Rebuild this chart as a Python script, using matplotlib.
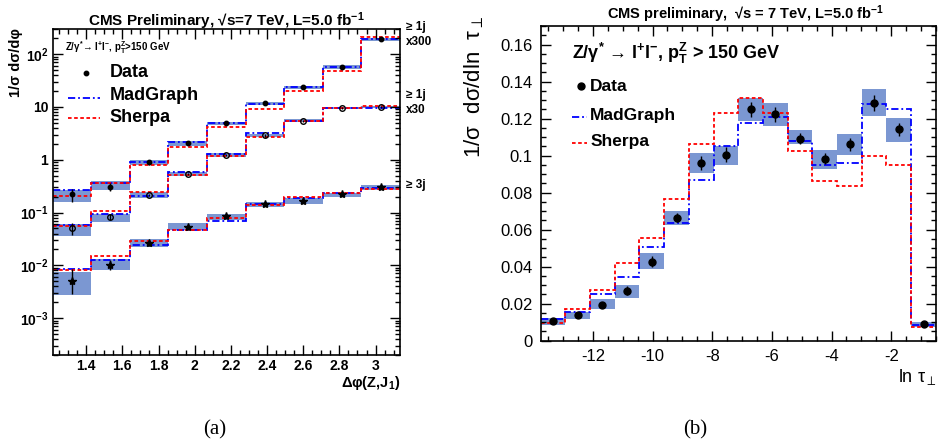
import numpy as np
import matplotlib
matplotlib.use("Agg")
import matplotlib.pyplot as plt
from matplotlib.ticker import MultipleLocator, FixedLocator, FixedFormatter, NullFormatter, LogLocator

plt.rcParams['font.family'] = ['Liberation Sans', 'DejaVu Sans']
plt.rcParams['mathtext.fontset'] = 'custom'
plt.rcParams['mathtext.rm'] = 'Liberation Sans'
plt.rcParams['mathtext.it'] = 'Liberation Sans:italic'
plt.rcParams['mathtext.bf'] = 'Liberation Sans:bold'
plt.rcParams['axes.unicode_minus'] = False

# ---- panel (a): delta phi(Z, J1), values as drawn (already scaled x300 / x30)
dphi_edges = [1.214, 1.427, 1.641, 1.854, 2.068, 2.281, 2.495, 2.708, 2.922, 3.135]

# >= 1j  x300
j1x300_data = [0.22, 0.31, 0.89, 2.06, 4.9, 11.9, 23.7, 57.8, 192]
j1x300_err = [0.06, 0.05, 0.08, 0.15, 0.35, 0.8, 1.5, 3.5, 10]
j1x300_band_lo = [0.16, 0.27, 0.80, 1.85, 4.5, 10.8, 21.5, 53, 180]
j1x300_band_hi = [0.27, 0.39, 0.97, 2.30, 5.3, 12.6, 25.5, 62, 205]
j1x300_mg = [0.265, 0.36, 0.89, 2.2, 4.9, 11.4, 23.7, 57.8, 192]
j1x300_sherpa = [0.21, 0.37, 0.78, 1.78, 4.2, 9.1, 19.9, 48.7, 211]

# >= 1j  x30
j1x30_data = [0.050, 0.083, 0.214, 0.54, 1.24, 2.9, 5.4, 9.6, 10.0]
j1x30_err = [0.013, 0.010, 0.012, 0.03, 0.06, 0.15, 0.25, 0.4, 0.4]
j1x30_band_lo = [0.036, 0.066, 0.19, 0.49, 1.15, 2.7, 5.1, 9.2, 9.5]
j1x30_band_hi = [0.060, 0.094, 0.24, 0.59, 1.33, 3.1, 5.8, 10.1, 10.5]
j1x30_mg = [0.058, 0.093, 0.205, 0.59, 1.30, 3.16, 5.5, 9.7, 9.7]
j1x30_sherpa = [0.056, 0.107, 0.24, 0.51, 1.19, 2.74, 5.4, 9.7, 10.3]

# >= 3j
j3_data = [0.0050, 0.0102, 0.026, 0.054, 0.087, 0.146, 0.166, 0.225, 0.30]
j3_err_lo = [0.0021, 0.0022, 0.003, 0.004, 0.006, 0.010, 0.012, 0.012, 0.02]
j3_err_hi = [0.0035, 0.0025, 0.003, 0.004, 0.006, 0.010, 0.012, 0.012, 0.02]
j3_band_lo = [0.0028, 0.0080, 0.022, 0.046, 0.072, 0.130, 0.147, 0.200, 0.27]
j3_band_hi = [0.0074, 0.0132, 0.031, 0.062, 0.094, 0.160, 0.190, 0.235, 0.33]
j3_mg = [0.0087, 0.0128, 0.0245, 0.047, 0.070, 0.146, 0.19, 0.23, 0.29]
j3_sherpa = [0.0080, 0.0153, 0.029, 0.046, 0.080, 0.136, 0.195, 0.23, 0.28]

# ---- panel (b): ln tau_perp
tau_edges = [-13.75, -12.92, -12.09, -11.27, -10.44, -9.61, -8.78, -7.95, -7.12,
             -6.30, -5.47, -4.64, -3.81, -2.98, -2.16, -1.33, -0.50]
tau_data = [0.0108, 0.0137, 0.0195, 0.0270, 0.0427, 0.0665, 0.0960, 0.1005,
            0.1249, 0.1222, 0.1090, 0.0982, 0.1060, 0.1285, 0.1141, 0.0090]
tau_err = [0.0010, 0.0010, 0.0012, 0.0025, 0.0030, 0.0025, 0.0040, 0.0040,
           0.0040, 0.0040, 0.0030, 0.0030, 0.0035, 0.0042, 0.0035, 0.0008]
tau_band_lo = [0.0085, 0.0117, 0.0171, 0.0232, 0.0386, 0.0625, 0.0906, 0.0951,
               0.1186, 0.1159, 0.1065, 0.0926, 0.1002, 0.1213, 0.1073, 0.0076]
tau_band_hi = [0.0124, 0.0157, 0.0223, 0.0300, 0.0472, 0.0703, 0.1014, 0.1054,
               0.1312, 0.1285, 0.1140, 0.1032, 0.1114, 0.1357, 0.1204, 0.0103]
tau_mg = [0.0115, 0.0157, 0.0252, 0.0342, 0.0508, 0.0634, 0.0870, 0.1054,
          0.1177, 0.1209, 0.1077, 0.0951, 0.0960, 0.1279, 0.1252, 0.0085]
tau_sherpa = [0.0097, 0.0169, 0.0272, 0.0422, 0.0557, 0.0766, 0.1060, 0.1230,
              0.1312, 0.1230, 0.1027, 0.0865, 0.0834, 0.0996, 0.0951, 0.0076]

band_col = '#7b97d2'
mg_style = dict(color='#0000ff', lw=1.3, ls=(0, (4, 1.6, 1, 1.6)))
sh_style = dict(color='#ff0000', lw=1.3, ls=(0, (2, 1.4)))

W, H = 946, 445
fig = plt.figure(figsize=(W / 100, H / 100), dpi=100)


def frac(x0, y0, x1, y1):
    return [x0 / W, 1 - y1 / H, (x1 - x0) / W, (y1 - y0) / H]


def draw_set(ax, edges, data, elo, ehi, blo, bhi, mg, sh, marker, ms, mfc):
    edges = np.asarray(edges)
    ax.stairs(bhi, edges, baseline=blo, fill=True, color=band_col, lw=0)
    ax.stairs(mg, edges, baseline=None, **mg_style)
    ax.stairs(sh, edges, baseline=None, **sh_style)
    cx = 0.5 * (edges[:-1] + edges[1:])
    ax.errorbar(cx, data, yerr=[elo, ehi], fmt=marker, ms=ms, mfc=mfc, mec='k',
                mew=1, color='k', elinewidth=1, capsize=0, zorder=5)


# ================= panel (a) =================
ax1 = fig.add_axes(frac(52.5, 29, 400, 355))
ax1.set_yscale('log')
draw_set(ax1, dphi_edges, j1x300_data, j1x300_err, j1x300_err, j1x300_band_lo, j1x300_band_hi,
         j1x300_mg, j1x300_sherpa, 'o', 3.2, 'k')
draw_set(ax1, dphi_edges, j1x30_data, j1x30_err, j1x30_err, j1x30_band_lo, j1x30_band_hi,
         j1x30_mg, j1x30_sherpa, 'o', 4.0, 'none')
draw_set(ax1, dphi_edges, j3_data, j3_err_lo, j3_err_hi, j3_band_lo, j3_band_hi,
         j3_mg, j3_sherpa, '*', 6.0, 'k')
ax1.set_xlim(1.214, 3.135)
ax1.set_ylim(2.0e-4, 300)
ax1.xaxis.set_minor_locator(MultipleLocator(0.05))
ax1.set_xticks([1.4, 1.6, 1.8, 2.0, 2.2, 2.4, 2.6, 2.8, 3.0])
ax1.set_xticklabels(['1.4', '1.6', '1.8', '2', '2.2', '2.4', '2.6', '2.8', '3'],
                    fontweight='bold', fontsize=10)
ax1.yaxis.set_major_locator(FixedLocator([1e-3, 1e-2, 1e-1, 1, 10, 100]))
ax1.yaxis.set_major_formatter(FixedFormatter(
    [r'$\mathbf{10^{-3}}$', r'$\mathbf{10^{-2}}$', r'$\mathbf{10^{-1}}$', '1', '10', r'$\mathbf{10^{2}}$']))
ax1.yaxis.set_minor_locator(LogLocator(base=10, subs=np.arange(2, 10)))
ax1.yaxis.set_minor_formatter(NullFormatter())
for lab in ax1.get_yticklabels():
    lab.set_fontweight('bold')
    lab.set_fontsize(10)
ax1.tick_params(which='both', direction='in', top=True, right=True, width=1)
ax1.tick_params(which='major', length=7, pad=3)
ax1.tick_params(which='minor', length=3.5)
for s in ax1.spines.values():
    s.set_linewidth(1.2)

fig.text(226 / W, 1 - 21 / H, r'CMS Preliminary, √s=7 TeV, L=5.0 fb$^{\mathbf{-1}}$',
         ha='center', va='center', fontsize=11, fontweight='bold')
fig.text(16 / W, 1 - 28 / H, '1/σ dσ/dφ', rotation=90, ha='center', va='top',
         fontsize=10.5, fontweight='bold')
fig.text(400 / W, 1 - 383 / H, r'Δφ(Z,J$_{\mathbf{1}}$)', ha='right', va='center',
         fontsize=10.5, fontweight='bold')
for txt, yy in [('≥ 1j', 27), ('x300', 42), ('≥ 1j', 95), ('x30', 110), ('≥ 3j', 185)]:
    fig.text(406 / W, 1 - yy / H, txt, ha='left', va='center', fontsize=8.5, fontweight='bold')

ax1.text(0.036, 0.942, r'Z/γ$^{\mathbf{*}}$→ l$^{\mathbf{+}}$l$^{\mathbf{-}}$, p$_{\mathbf{T}}^{\mathbf{Z}}$>150 GeV',
         transform=ax1.transAxes, ha='left', va='center', fontsize=7, fontweight='bold')
ax1.plot([0.0964], [0.866], 'o', ms=3.2, color='k', transform=ax1.transAxes)
ax1.plot([0.045, 0.137], [0.789, 0.789], transform=ax1.transAxes, **mg_style)
ax1.plot([0.045, 0.137], [0.727, 0.727], transform=ax1.transAxes, **sh_style)
for txt, yy in [('Data', 0.866), ('MadGraph', 0.795), ('Sherpa', 0.73)]:
    ax1.text(0.165, yy, txt, transform=ax1.transAxes, ha='left', va='center',
             fontsize=13, fontweight='bold')

# ================= panel (b) =================
ax2 = fig.add_axes(frac(540.7, 26, 936, 340.7))
draw_set(ax2, tau_edges, tau_data, tau_err, tau_err, tau_band_lo, tau_band_hi,
         tau_mg, tau_sherpa, 'o', 5.0, 'k')
ax2.set_xlim(-13.75, -0.5)
ax2.set_ylim(0, 0.17)
ax2.xaxis.set_major_locator(MultipleLocator(2))
ax2.xaxis.set_minor_locator(MultipleLocator(0.5))
ax2.yaxis.set_major_locator(MultipleLocator(0.02))
ax2.yaxis.set_minor_locator(MultipleLocator(0.005))
ax2.yaxis.set_major_formatter(plt.FuncFormatter(lambda v, p: '%g' % round(v, 3)))
ax2.tick_params(which='both', direction='in', top=True, right=True, width=1, labelsize=12)
ax2.tick_params(which='major', length=7, pad=6)
ax2.tick_params(which='minor', length=3.5)
for s in ax2.spines.values():
    s.set_linewidth(1.2)

fig.text(745 / W, 1 - 14 / H, r'CMS preliminary,  √s = 7 TeV, L=5.0 fb$^{\mathbf{-1}}$',
         ha='center', va='center', fontsize=10.5, fontweight='bold')
fig.text(474 / W, 1 - 16 / H, r'1/σ  dσ/dln  τ$_{\perp}$', rotation=90, ha='center', va='top',
         fontsize=16)
fig.text(936 / W, 1 - 377 / H, r'ln τ$_{\perp}$', ha='right', va='center', fontsize=13)

ax2.text(0.079, 0.914, r'Z/γ$^{\mathbf{*}}$ → l$^{\mathbf{+}}$l$^{\mathbf{-}}$, p$_{\mathbf{T}}^{\mathbf{Z}}$ > 150 GeV',
         transform=ax2.transAxes, ha='left', va='center', fontsize=13, fontweight='bold')
ax2.plot([0.101], [0.809], 'o', ms=5, color='k', transform=ax2.transAxes)
ax2.plot([0.079, 0.117], [0.711, 0.711], transform=ax2.transAxes, **mg_style)
ax2.plot([0.079, 0.117], [0.628, 0.628], transform=ax2.transAxes, **sh_style)
for txt, yy in [('Data', 0.809), ('MadGraph', 0.717), ('Sherpa', 0.634)]:
    ax2.text(0.125, yy, txt, transform=ax2.transAxes, ha='left', va='center',
             fontsize=12.5, fontweight='bold')

fig.text(215 / W, 1 - 430 / H, '(a)', ha='center', va='center', fontsize=15,
         family='Liberation Serif')
fig.text(695 / W, 1 - 430 / H, '(b)', ha='center', va='center', fontsize=15,
         family='Liberation Serif')

fig.savefig('out.png', dpi=100)
